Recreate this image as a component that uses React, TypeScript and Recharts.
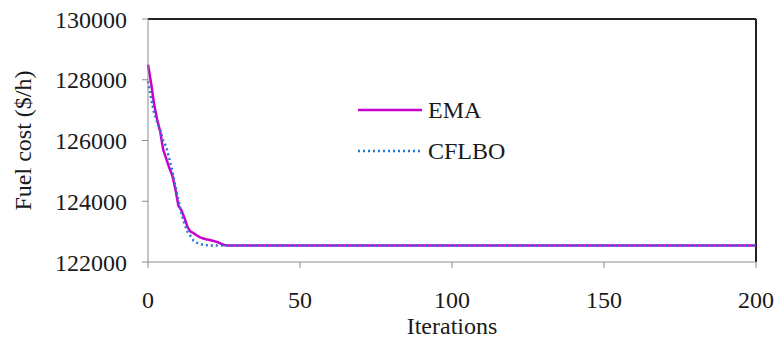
import React from 'react';
import { LineChart, Line, XAxis, YAxis, ReferenceLine, Legend } from 'recharts';

const iterations = [0, 1, 2, 3, 4, 5, 6, 7, 8, 9, 10, 11, 12, 13, 14, 15, 16, 17, 18, 19, 20, 21, 22, 23, 24, 25, 26, 200];

const emaCost = [
  128500, 127900, 127200, 126700, 126300, 125700, 125400, 125100, 124850, 124400,
  123850, 123700, 123450, 123150, 123000, 122950, 122880, 122820, 122780, 122750,
  122730, 122710, 122680, 122650, 122600, 122560, 122540, 122540,
];

const cflboCost = [
  127950, 127400, 126900, 126600, 126350, 126000, 125800, 125400, 125000, 124500,
  124050, 123600, 123250, 123000, 122850, 122700, 122640, 122600, 122570, 122555,
  122545, 122540, 122540, 122540, 122540, 122540, 122540, 122540,
];

const xTicks = [0, 50, 100, 150, 200];
const yTicks = [122000, 124000, 126000, 128000, 130000];

const data = iterations.map((it, i) => ({ it, EMA: emaCost[i], CFLBO: cflboCost[i] }));

const FONT = 'Liberation Serif, Tinos, DejaVu Serif, Times New Roman, serif';
const EMA_COLOR = '#cc00cc';
const CFLBO_COLOR = '#1f7bd1';
const textStyle = { fill: '#1a1a1a', fontSize: 24, fontFamily: FONT };

const LegendBox = () => (
  <svg width={170} height={80} style={{ overflow: 'visible' }}>
    <line x1={0} y1={10} x2={64} y2={10} stroke={EMA_COLOR} strokeWidth={2.5} />
    <text x={70} y={18} style={textStyle}>EMA</text>
    <line x1={0} y1={51} x2={64} y2={51} stroke={CFLBO_COLOR} strokeWidth={2.5}
      strokeDasharray="2 3" />
    <text x={70} y={59} style={textStyle}>CFLBO</text>
  </svg>
);

export default function App() {
  return (
    <div style={{ position: 'absolute', left: 0, top: 0, background: '#fff', fontFamily: FONT }}>
      <LineChart width={775} height={342} data={data}
        margin={{ top: 19, right: 19, bottom: 0, left: 0 }}>
        <XAxis dataKey="it" type="number" domain={[0, 200]} ticks={xTicks}
          height={80} stroke="#8c8c8c" tickSize={6} tickMargin={23}
          tick={{ ...textStyle, style: textStyle }}
          label={{ value: 'Iterations', position: 'insideBottom', offset: 8, style: textStyle }} />
        <YAxis domain={[122000, 130000]} ticks={yTicks} width={148}
          stroke="#8c8c8c" tickSize={6} tickMargin={15}
          tick={{ ...textStyle, style: textStyle }}
          label={{ value: 'Fuel cost ($/h)', angle: -90, position: 'insideLeft', offset: 22,
            style: { ...textStyle, textAnchor: 'middle' } }} />
        <ReferenceLine y={130000} stroke="#222" strokeWidth={2} />
        <ReferenceLine x={200} stroke="#222" strokeWidth={2} />
        <Line dataKey="EMA" stroke={EMA_COLOR} strokeWidth={2.5} dot={false}
          isAnimationActive={false} />
        <Line dataKey="CFLBO" stroke={CFLBO_COLOR} strokeWidth={2.5} dot={false}
          strokeDasharray="2 3" isAnimationActive={false} />
        <Legend content={LegendBox} layout="vertical" align="center" verticalAlign="middle"
          wrapperStyle={{ left: 358, top: 100, width: 170 }} />
      </LineChart>
    </div>
  );
}
